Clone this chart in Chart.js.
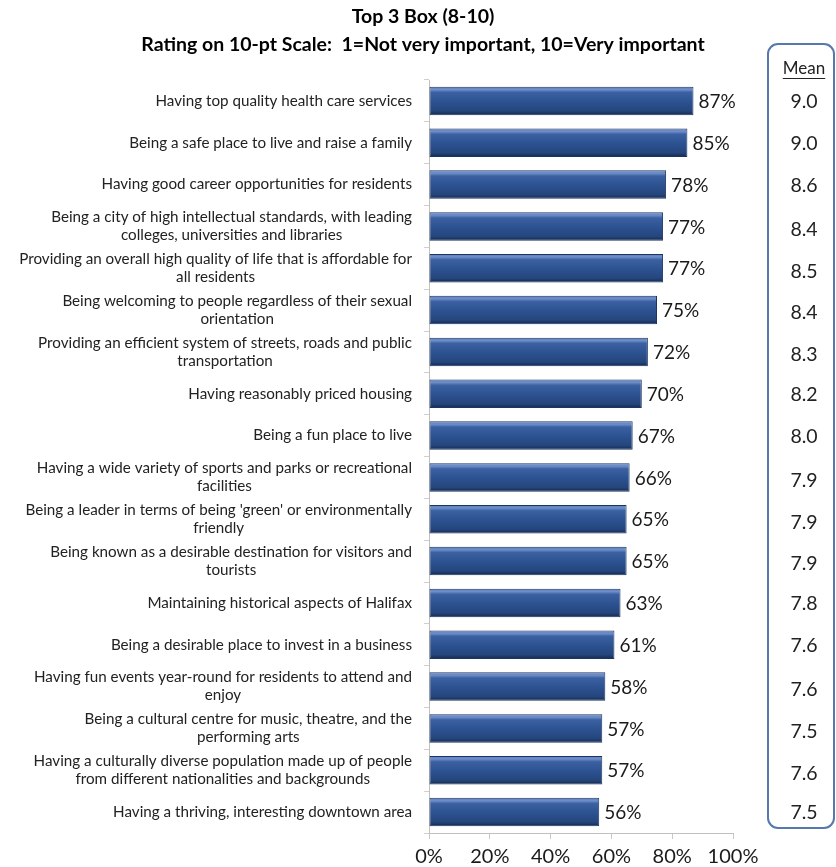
<!DOCTYPE html>
<html>
<head>
<meta charset="utf-8">
<title>Top 3 Box (8-10)</title>
<script src="https://cdn.jsdelivr.net/npm/chart.js@4.4.1/dist/chart.umd.min.js"></script>
<style>
  html, body { margin: 0; padding: 0; background: #fff; }
  #wrap { width: 836px; height: 867px; }
</style>
</head>
<body>
<div id="wrap"><canvas id="top3Chart"></canvas></div>
<script>
// values
const titleLines = [
    'Top 3 Box (8-10)',
    'Rating on 10-pt Scale:  1=Not very important, 10=Very important'
];

const categories = [
    ['Having top quality health care services'],
    ['Being a safe place to live and raise a family'],
    ['Having good career opportunities for residents'],
    ['Being a city of high intellectual standards, with leading', 'colleges, universities and libraries'],
    ['Providing an overall high quality of life that is affordable for', 'all residents'],
    ['Being welcoming to people regardless of their sexual', 'orientation'],
    ['Providing an efficient system of streets, roads and public', 'transportation'],
    ['Having reasonably priced housing'],
    ['Being a fun place to live'],
    ['Having a wide variety of sports and parks or recreational', 'facilities'],
    ["Being a leader in terms of being 'green' or environmentally", 'friendly'],
    ['Being known as a desirable destination for visitors and', 'tourists'],
    ['Maintaining historical aspects of Halifax'],
    ['Being a desirable place to invest in a business'],
    ['Having fun events year-round for residents to attend and', 'enjoy'],
    ['Being a cultural centre for music, theatre, and the', 'performing arts'],
    ['Having a culturally diverse population made up of people', 'from different nationalities and backgrounds'],
    ['Having a thriving, interesting downtown area']
];

const top3Box = [87, 85, 78, 77, 77, 75, 72, 70, 67, 66, 65, 65, 63, 61, 58, 57, 57, 56];

const meanScores = [9.0, 9.0, 8.6, 8.4, 8.5, 8.4, 8.3, 8.2, 8.0, 7.9, 7.9, 7.9, 7.8, 7.6, 7.6, 7.5, 7.6, 7.5];

const xTicks = [0, 20, 40, 60, 80, 100];

const meanHeader = 'Mean';

const BAR_PCT = 0.68;
const FONT = 'Lato';

// bevelled blue fill, one gradient per bar
function barFill(context) {
    const chart = context.chart;
    if (!chart.chartArea) return '#2f5597';
    const yScale = chart.scales.y;
    const y = yScale.getPixelForValue(context.dataIndex);
    const half = (yScale.height / categories.length) * BAR_PCT / 2;
    const g = chart.ctx.createLinearGradient(0, y - half, 0, y + half);
    g.addColorStop(0, '#5b7cb8');
    g.addColorStop(0.1, '#6f8fca');
    g.addColorStop(0.2, '#3b61a2');
    g.addColorStop(0.55, '#2c5190');
    g.addColorStop(0.85, '#25467c');
    g.addColorStop(1, '#13284f');
    return g;
}

// title, category labels, percent labels and the mean column
const sideText = {
    id: 'sideText',
    afterDatasetsDraw(chart) {
        const ctx = chart.ctx;
        const yScale = chart.scales.y;
        const area = chart.chartArea;
        const meta = chart.getDatasetMeta(0);
        ctx.save();

        // title, centred on the whole picture
        ctx.font = 'bold 19.5px ' + FONT;
        ctx.fillStyle = '#000';
        ctx.textAlign = 'center';
        ctx.textBaseline = 'middle';
        ctx.fillText(titleLines[0], 423, 17);
        ctx.fillText(titleLines[1], 423, 45);

        // right aligned blocks, lines centred inside each block
        ctx.font = '15.2px ' + FONT;
        ctx.fillStyle = '#222';
        categories.forEach((lines, i) => {
            const y = yScale.getPixelForValue(i);
            const blockW = Math.max(...lines.map(l => ctx.measureText(l).width));
            const cx = area.left - 17 - blockW / 2;
            lines.forEach((l, k) => {
                ctx.fillText(l, cx, y + (k - (lines.length - 1) / 2) * 18);
            });
        });

        // percentages at the bar ends
        ctx.font = '19px ' + FONT;
        ctx.fillStyle = '#1a1a1a';
        ctx.textAlign = 'left';
        meta.data.forEach((bar, i) => {
            ctx.fillText(top3Box[i] + '%', bar.x + 5, bar.y + 1);
        });

        // mean box
        const boxL = 768, boxR = 834, boxT = 44, boxB = 828;
        ctx.strokeStyle = '#5679ad';
        ctx.lineWidth = 2;
        ctx.beginPath();
        ctx.roundRect(boxL, boxT, boxR - boxL, boxB - boxT, 10);
        ctx.stroke();

        const mx = 804;
        ctx.textAlign = 'center';
        ctx.font = '17px ' + FONT;
        ctx.fillStyle = '#222';
        ctx.fillText(meanHeader, mx, 69);
        const hw = ctx.measureText(meanHeader).width / 2;
        ctx.strokeStyle = '#222';
        ctx.lineWidth = 1;
        ctx.beginPath();
        ctx.moveTo(mx - hw, 78.5);
        ctx.lineTo(mx + hw, 78.5);
        ctx.stroke();

        ctx.font = '19.5px ' + FONT;
        meanScores.forEach((m, i) => {
            const lines = categories[i].length;
            ctx.fillText(m.toFixed(1), mx, yScale.getPixelForValue(i) + (lines > 1 ? 3 : 1));
        });

        ctx.restore();
    }
};

document.addEventListener('DOMContentLoaded', function() {
    const el = document.getElementById('top3Chart');
    new Chart(el, {
        type: 'bar',
        data: {
            labels: categories,
            datasets: [{
                label: 'Top 3 Box',
                data: top3Box,
                backgroundColor: barFill,
                borderColor: '#1b3462',
                borderWidth: 1,
                borderSkipped: false,
                barPercentage: BAR_PCT,
                categoryPercentage: 1
            }]
        },
        options: {
            indexAxis: 'y',
            responsive: true,
            maintainAspectRatio: false,
            animation: false,
            layout: { padding: { left: 0, right: 103, top: 80, bottom: 0 } },
            plugins: {
                legend: { display: false },
                tooltip: { enabled: false },
                title: { display: false }
            },
            scales: {
                x: {
                    min: 0,
                    max: 100,
                    afterBuildTicks: s => { s.ticks = xTicks.map(v => ({ value: v })); },
                    afterFit(scale) { scale.height = 34; },
                    grid: { drawOnChartArea: false, tickLength: 6, color: '#c8c8c8' },
                    border: { color: '#c0c0c0' },
                    ticks: {
                        padding: 8,
                        color: '#1a1a1a',
                        font: { family: FONT, size: 20, lineHeight: 1 },
                        callback: v => v + '%'
                    }
                },
                y: {
                    grid: { drawOnChartArea: false, tickLength: 5, color: '#d0d0d0', offset: true },
                    border: { color: '#c0c0c0' },
                    ticks: { display: false },
                    afterFit(scale) { scale.width = 429; }
                }
            }
        },
        plugins: [sideText]
    });
});
</script>
</body>
</html>
